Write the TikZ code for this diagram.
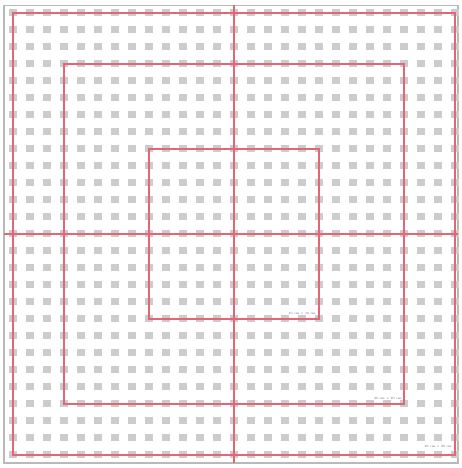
\documentclass[tikz,border=0pt]{standalone}
\usetikzlibrary{positioning}
\definecolor{cutred}{RGB}{228,100,120}
\tikzset{gridcell/.style = {fill = gray!40, draw = none},
    cutline/.style = {draw = cutred, line width = 3.2pt},
    sheetframe/.style = {draw = gray!55, line width = 2pt},
    sizelabel/.style = {font = \fontsize{5.5}{6}\selectfont, text = gray!75!black,
        inner sep = 1pt, anchor = south east}
}

\begin{document}
\begin{tikzpicture}[x = 1cm, y = 1cm]

    \useasboundingbox (-13.76,-13.79) rectangle (13.41,13.74);

    % sheet
    \draw[sheetframe] (-13.53,-13.5) rectangle (13.18,13.44);

    % grid of cells
    \foreach \i in {-13,...,13}{
        \foreach \j in {-13,...,13}{
            \fill[gridcell] (\i-0.23,\j-0.23) rectangle ++(0.46,0.46);
        }
    }

    % crosshair
    \coordinate (top) at (0,13.44);
    \coordinate (bottom) at (0,-13.5);
    \coordinate (left) at (-13.53,0);
    \coordinate (right) at (13.18,0);
    \draw[cutline] (top) -- (bottom);
    \draw[cutline] (left) -- (right);

    % frames
    \foreach \s in {5,10,13}{
        \draw[cutline] (-\s,-\s) rectangle (\s,\s);
    }

    \node[sizelabel] (small) at (4.85,-4.82) {10 cm $\times$ 10 cm};
    \node[sizelabel] (medium) at (9.88,-9.82) {20 cm $\times$ 20 cm};
    \node[sizelabel] (large) at (12.85,-12.68) {26 cm $\times$ 26 cm};

\end{tikzpicture}
\end{document}
